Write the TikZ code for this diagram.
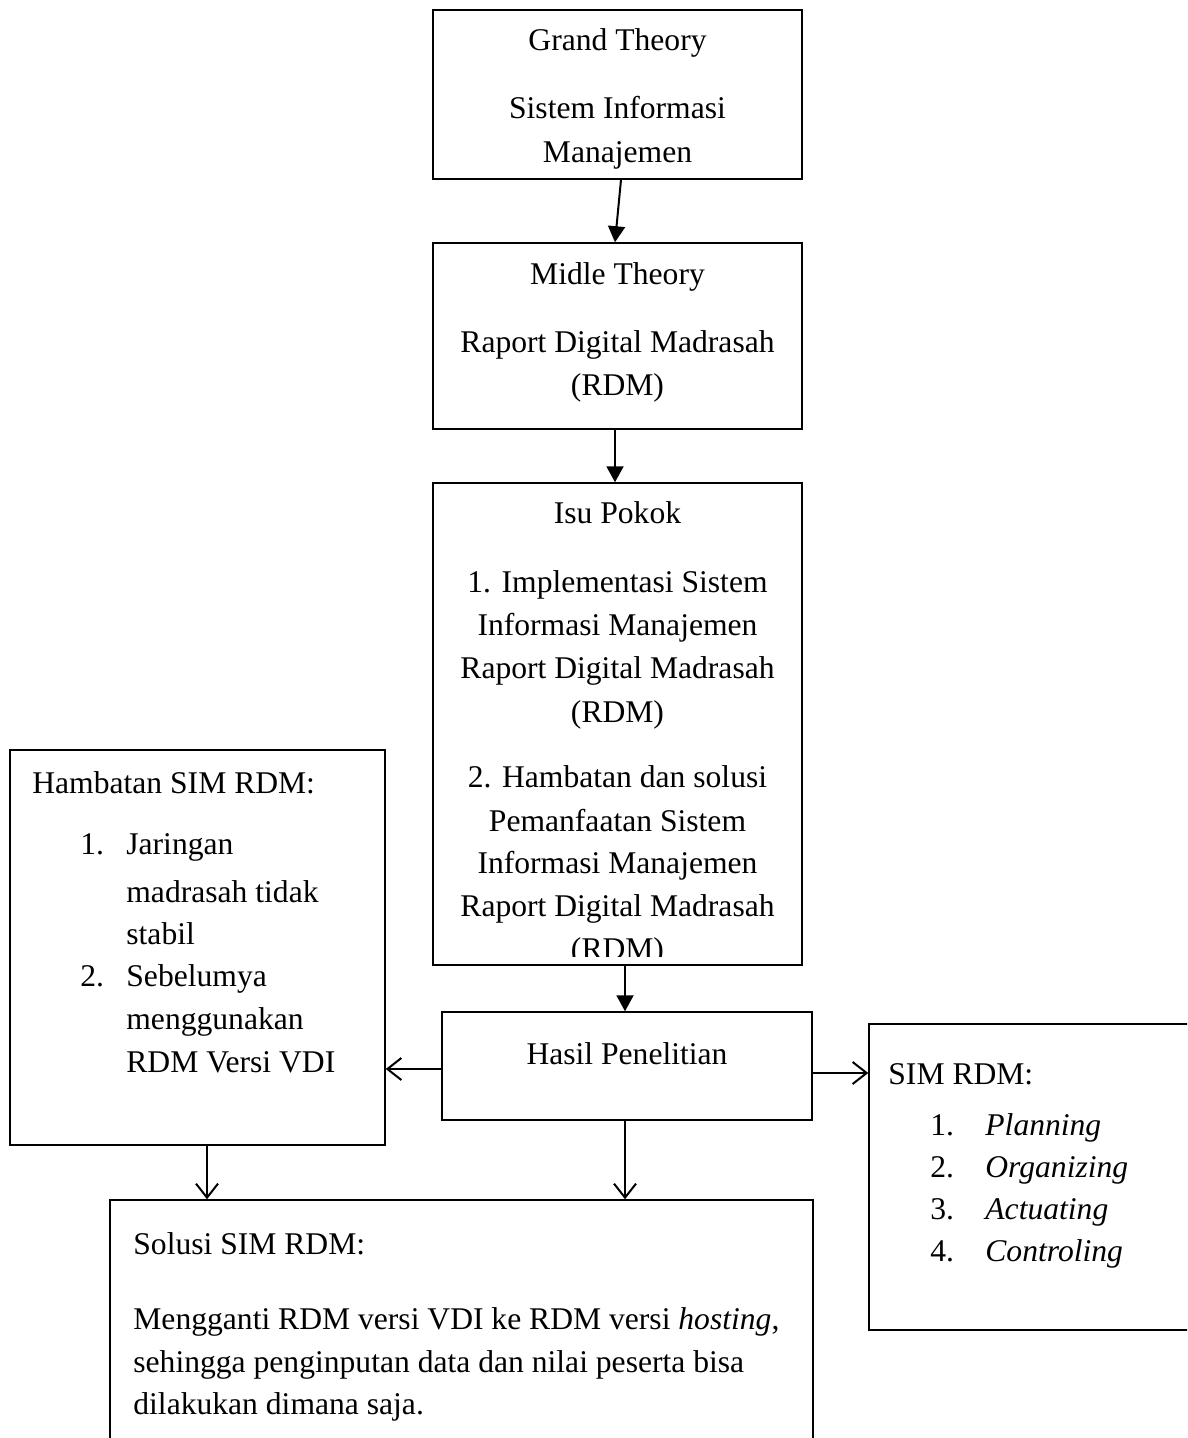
\documentclass[tikz,border=0pt]{standalone}
\usepackage{fontspec}
\setmainfont{Liberation Serif}
\usetikzlibrary{arrows.meta}
\begin{document}
\begin{tikzpicture}[x=0.5pt,y=-0.5pt,
  box/.style={draw=black,line width=0.75pt,rectangle,inner sep=0pt},
  txt/.style={inner sep=0pt,anchor=base,font=\fontsize{15.8}{19}\selectfont},
  ltxt/.style={txt,anchor=base west},
  farrow/.style={line width=1pt,-{Triangle[length=8pt,width=8.5pt]}},
  oarrow/.style={line width=1pt,-{Straight Barb[length=7pt,width=11pt,line width=1pt]}}]
\useasboundingbox (0,0) rectangle (1187,1438);
\clip (0,0) rectangle (1187,1438);
\fill[white] (0,0) rectangle (1187,1438);
% boxes
\node[box,minimum width=184.5pt,minimum height=84.5pt] (grand) at (617.5,94.5) {};
\node[box,minimum width=184.5pt,minimum height=93pt] (midle) at (617.5,336) {};
\node[box,minimum width=184.5pt,minimum height=241pt] (isu) at (617.5,724) {};
\node[box,minimum width=185pt,minimum height=54pt] (hasil) at (627,1066) {};
\node[box,minimum width=187.5pt,minimum height=197.5pt] (hamb) at (197.5,947.5) {};
\node[box,minimum width=165.5pt,minimum height=153pt] (sim) at (1034.5,1177) {};
\node[box,minimum width=351.5pt,minimum height=125pt] (solusi) at (461.5,1325) {};
% Grand
\node[txt] (g1) at (617.5,51) {Grand Theory};
\node[txt] (g2) at (617.5,119) {Sistem Informasi};
\node[txt] (g3) at (617.5,163) {Manajemen};
% Midle
\node[txt] (m1) at (617.5,285) {Midle Theory};
\node[txt] (m2) at (617.5,353) {Raport Digital Madrasah};
\node[txt] (m3) at (617.5,396) {(RDM)};
% Isu
\node[txt] (i1) at (617.5,523) {Isu Pokok};
\node[txt] (i2) at (617.5,592) {1. Implementasi Sistem};
\node[txt] (i3) at (617.5,635) {Informasi Manajemen};
\node[txt] (i4) at (617.5,678) {Raport Digital Madrasah};
\node[txt] (i5) at (617.5,722) {(RDM)};
\node[txt] (i6) at (617.5,787) {2. Hambatan dan solusi};
\node[txt] (i7) at (617.5,831) {Pemanfaatan Sistem};
\node[txt] (i8) at (617.5,873) {Informasi Manajemen};
\node[txt] (i9) at (617.5,916) {Raport Digital Madrasah};
\begin{scope}
\clip (433,900) rectangle (802,956);
\node[txt] (i10) at (617.5,959) {(RDM)};
\end{scope}
% Hasil
\node[txt] (h1) at (627,1064) {Hasil Penelitian};
% Hambatan
\node[ltxt] (b0) at (32,793) {Hambatan SIM RDM:};
\node[ltxt] (b1n) at (80,854) {1.};
\node[ltxt] (b1) at (126,854) {Jaringan};
\node[ltxt] (b2) at (126,902) {madrasah tidak};
\node[ltxt] (b3) at (126,944) {stabil};
\node[ltxt] (b4n) at (80,986) {2.};
\node[ltxt] (b4) at (126,986) {Sebelumya};
\node[ltxt] (b5) at (126,1029) {menggunakan};
\node[ltxt] (b6) at (126,1072) {RDM Versi VDI};
% SIM
\node[ltxt] (s0) at (888,1084) {SIM RDM:};
\node[ltxt] (s1n) at (930,1135) {1.};
\node[ltxt] (s1) at (985,1135) {\textit{Planning}};
\node[ltxt] (s2n) at (930,1177) {2.};
\node[ltxt] (s2) at (985,1177) {\textit{Organizing}};
\node[ltxt] (s3n) at (930,1219) {3.};
\node[ltxt] (s3) at (985,1219) {\textit{Actuating}};
\node[ltxt] (s4n) at (930,1261) {4.};
\node[ltxt] (s4) at (985,1261) {\textit{Controling}};
% Solusi
\node[ltxt] (o0) at (133,1254) {Solusi SIM RDM:};
\node[ltxt] (o1) at (133,1329) {Mengganti RDM versi VDI ke RDM versi \textit{hosting},};
\node[ltxt] (o2) at (133,1372) {sehingga penginputan data dan nilai peserta bisa};
\node[ltxt] (o3) at (133,1414) {dilakukan dimana saja.};
% arrows
\draw[farrow] ([xshift=1.75pt]grand.south) -- ([xshift=-1.25pt]midle.north);
\draw[farrow] ([xshift=-1.25pt]midle.south) -- ([xshift=-1.25pt]isu.north);
\draw[farrow] ([xshift=3.75pt]isu.south) -- ([xshift=-1pt]hasil.north);
\draw[oarrow] ([yshift=-1.5pt]hasil.west) -- ([yshift=-1.5pt]hasil.west -| hamb.east);
\draw[oarrow] ([yshift=-3.5pt]hasil.east) -- ([yshift=-3.5pt]hasil.east -| sim.west);
\draw[oarrow] ([xshift=4.75pt]hamb.south) -- ([xshift=4.75pt]hamb.south |- solusi.north);
\draw[oarrow] ([xshift=-1pt]hasil.south) -- ([xshift=-1pt]hasil.south |- solusi.north);
\end{tikzpicture}
\end{document}
